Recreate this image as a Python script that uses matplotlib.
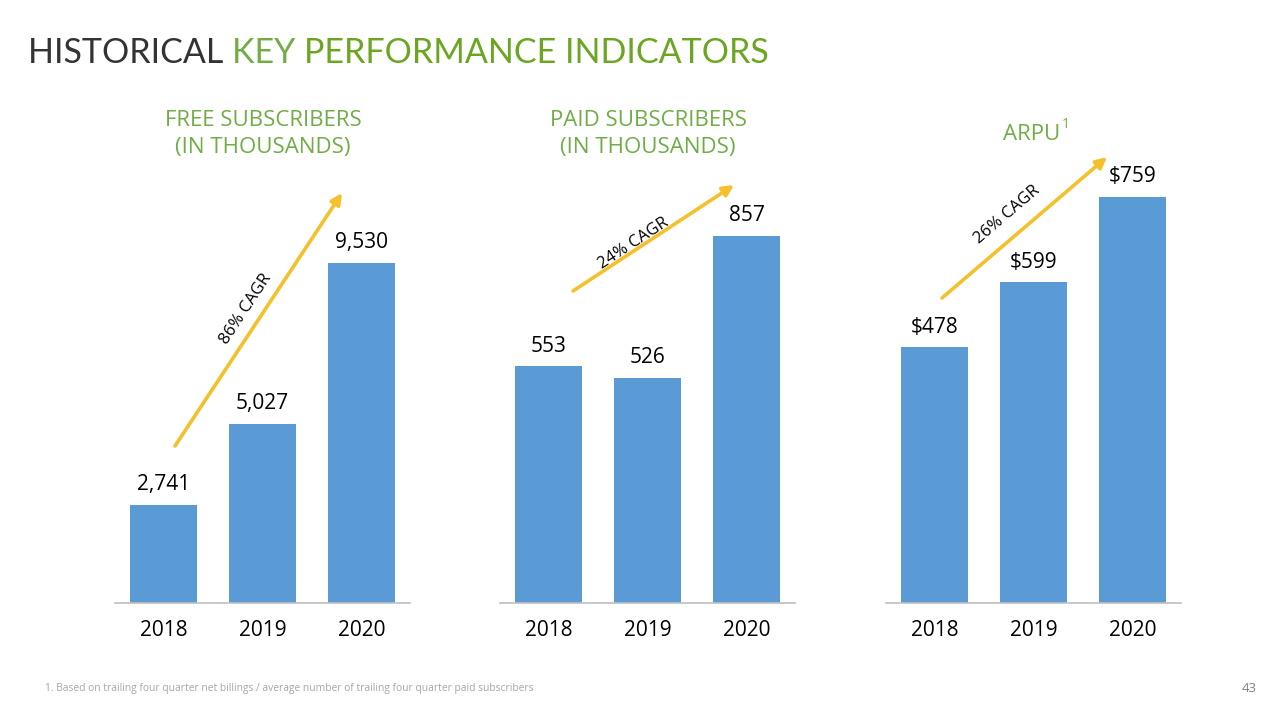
import math
import matplotlib
matplotlib.use("Agg")
import matplotlib.pyplot as plt
from matplotlib.patches import FancyArrowPatch

# ---- data ----
years = ["2018", "2019", "2020"]
free_subs = [2741, 5027, 9530]
paid_subs = [553, 526, 857]
arpu = [478, 599, 759]

free_labels = ["2,741", "5,027", "9,530"]
paid_labels = ["553", "526", "857"]
arpu_labels = ["$478", "$599", "$759"]

cagr_labels = ["86% CAGR", "24% CAGR", "26% CAGR"]

# ---- style ----
FONT = "Open Sans"
TITLE_FONT = "Lato"
BAR = "#5B9BD5"
GREEN_LIGHT = "#70AD47"
GREEN = "#6AA621"
DARK = "#333333"
YELLOW = "#F4C02B"
GREY_LINE = "#BFBFBF"

plt.rcParams["font.family"] = [FONT, "DejaVu Sans"]

fig = plt.figure(figsize=(12.8, 7.2), dpi=100)
W, H = 1280, 720


def fx(px):
    return px / W


def fy(py):
    return 1 - py / H


# axes geometry in pixels (left edge, width), shared bottom/height
panel_left = [115, 500, 886]
panel_w = 295
ax_bottom, ax_h = 603, 450
ytops = [12613, 1051, 841]

series = [free_subs, paid_subs, arpu]
labels = [free_labels, paid_labels, arpu_labels]

for i in range(3):
    ax = fig.add_axes([fx(panel_left[i]), fy(ax_bottom), panel_w / W, ax_h / H])
    x = range(len(years))
    bars = ax.bar(x, series[i], width=0.667, color=BAR)
    for b, lab in zip(bars, labels[i]):
        ax.annotate(lab, (b.get_x() + b.get_width() / 2, b.get_height()),
                    xytext=(0, 7), textcoords="offset points",
                    ha="center", va="bottom", fontsize=15, color="black")
    ax.set_xlim(-0.49, 2.49)
    ax.set_ylim(0, ytops[i])
    ax.set_xticks(list(x))
    ax.set_xticklabels(years, fontsize=15)
    ax.tick_params(axis="x", length=0, pad=12)
    ax.set_yticks([])
    for s in ["top", "left", "right"]:
        ax.spines[s].set_visible(False)
    ax.spines["bottom"].set_color(GREY_LINE)
    ax.spines["bottom"].set_linewidth(1.2)
    ax.patch.set_alpha(0)

# ---- CAGR arrows (figure pixel coords) ----
arrows = [((175, 446), (342, 193)), ((573, 291), (734, 185)), ((942, 298), (1107, 157))]
text_pos = [(246, 309), (634, 243), (1007, 215)]
for (p0, p1), tp, lab in zip(arrows, text_pos, cagr_labels):
    fig.add_artist(FancyArrowPatch(
        (fx(p0[0]), fy(p0[1])), (fx(p1[0]), fy(p1[1])),
        transform=fig.transFigure, arrowstyle="-|>", mutation_scale=16,
        color=YELLOW, linewidth=2.6, shrinkA=0, shrinkB=0))
    ang = math.degrees(math.atan2(p0[1] - p1[1], p1[0] - p0[0]))
    fig.text(fx(tp[0]), fy(tp[1]), lab, rotation=ang, rotation_mode="anchor",
             ha="center", va="center", fontsize=12, color="black")

# ---- titles ----
title_parts = [("HISTORICAL ", DARK), ("KEY ", GREEN_LIGHT), ("PERFORMANCE INDICATORS", GREEN)]
x0 = fx(28)
for txt, col in title_parts:
    t = fig.text(x0, fy(53), txt, fontsize=24.5, color=col, va="center", ha="left",
                 family=TITLE_FONT)
    fig.canvas.draw()
    x0 = t.get_window_extent().x1 / W

fig.text(fx(263), fy(134), "FREE SUBSCRIBERS\n(IN THOUSANDS)", fontsize=16, color=GREEN_LIGHT,
         ha="center", va="center", linespacing=1.35)
fig.text(fx(648), fy(134), "PAID SUBSCRIBERS\n(IN THOUSANDS)", fontsize=16, color=GREEN_LIGHT,
         ha="center", va="center", linespacing=1.35)
fig.text(fx(1032), fy(134), "ARPU", fontsize=16, color=GREEN_LIGHT, ha="center", va="center")
fig.text(fx(1062), fy(124), "1", fontsize=10, color=GREEN_LIGHT, ha="left", va="center")

# ---- footnote ----
fig.text(fx(45), fy(688), "1. Based on trailing four quarter net billings / average number of trailing four quarter paid subscribers",
         fontsize=7.4, color="#A6A6A6", ha="left", va="center")
fig.text(fx(1257), fy(688), "43", fontsize=9.5, color="#808080", ha="right", va="center")

fig.savefig("out.png", dpi=100)
